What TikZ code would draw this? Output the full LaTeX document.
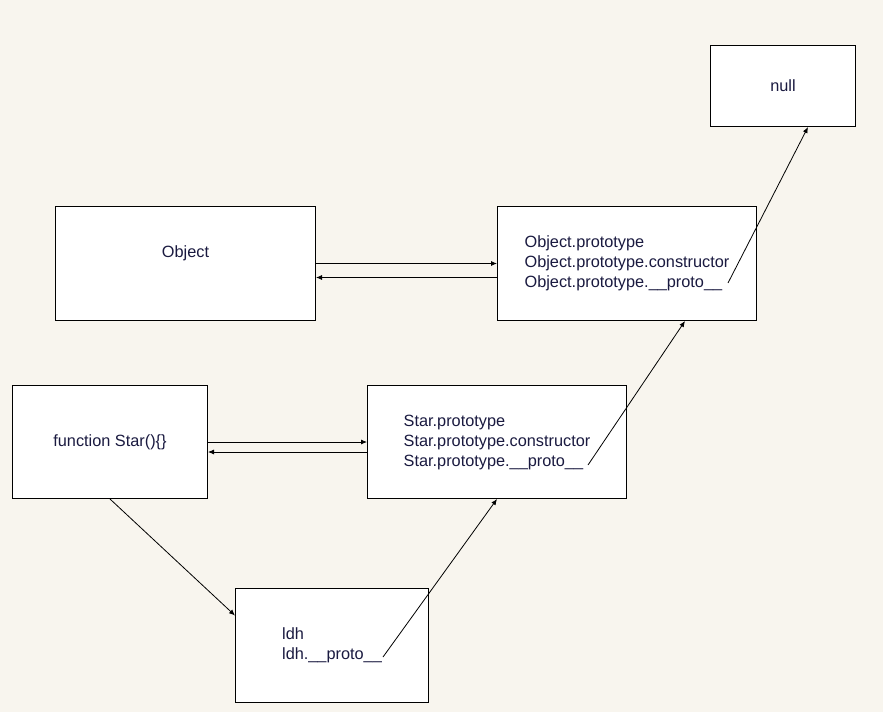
\documentclass[tikz,border=0pt]{standalone}
\usepackage{fontspec}
\setmainfont{Liberation Sans}
\usetikzlibrary{arrows.meta}
\definecolor{bg}{HTML}{F8F5EE}
\definecolor{txt}{HTML}{1A1A40}
\begin{document}
\begin{tikzpicture}[x=1pt,y=-1pt,
  box/.style={draw=black,fill=white,line width=1pt,inner sep=0pt,anchor=north west,
    align=left,font=\fontsize{16.3}{20}\selectfont,text=txt},
  arr/.style={line width=0.8pt,-{Latex[length=6pt,width=5pt]}}]
\fill[bg] (0,0) rectangle (883,712);
\useasboundingbox (0,0) rectangle (883,712);
\node[box,minimum width=145pt,minimum height=81pt] (null) at (710,45) {null};
\node[box,minimum width=260pt,minimum height=114pt] (Object) at (55,206)
  {\raisebox{10pt}[\height][\depth]{Object}};
\node[box,minimum width=259pt,minimum height=114pt] (OP) at (497,206)
  {Object.prototype\\Object.prototype.constructor\\Object.prototype.\_\_proto\_\_};
\node[box,minimum width=195pt,minimum height=113pt] (fn) at (12,385) {function Star()\{\}};
\node[box,minimum width=259pt,minimum height=113pt] (SP) at (367,385)
  {Star.prototype\\Star.prototype.constructor\\Star.prototype.\_\_proto\_\_};
\node[box,minimum width=193pt,minimum height=114pt] (ldh) at (235,588)
  {ldh\\ldh.\_\_proto\_\_};
\coordinate (opp) at (728,283);
\coordinate (spp) at (588,465);
\coordinate (lp) at (383,657);
\draw[arr] (Object.east) -- (OP.west);
\draw[arr] ([yshift=-14pt]OP.west) -- ([yshift=-14pt]Object.east);
\draw[arr] (fn.east) -- (SP.west);
\draw[arr] ([yshift=-10pt]SP.west) -- ([yshift=-10pt]fn.east);
\draw[arr] (fn.south) -- ([yshift=30pt]ldh.west);
\draw[arr] (lp) -- (SP.south);
\draw[arr] (spp) -- ([xshift=58pt]OP.south);
\draw[arr] (opp) -- ([xshift=25pt]null.south);
\end{tikzpicture}
\end{document}
